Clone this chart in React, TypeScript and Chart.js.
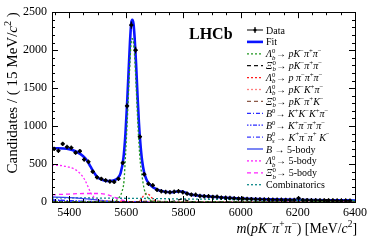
import React, { useEffect, useRef } from 'react';
import { Chart, registerables } from 'chart.js';

Chart.register(...registerables);

const FONT = "'Liberation Serif', 'DejaVu Serif', 'Times New Roman', serif";

// ---- axis ticks ----
const xTicks = [5400, 5600, 5800, 6000, 6200, 6400];
const yTicks = [0, 500, 1000, 1500, 2000, 2500];

// ---- data (15 MeV bins) ----
const binCenters = [
  5347.5, 5362.5, 5377.5, 5392.5, 5407.5, 5422.5, 5437.5, 5452.5, 5467.5, 5482.5,
  5497.5, 5512.5, 5527.5, 5542.5, 5557.5, 5572.5, 5587.5, 5602.5, 5617.5, 5632.5,
  5647.5, 5662.5, 5677.5, 5692.5, 5707.5, 5722.5, 5737.5, 5752.5, 5767.5, 5782.5,
  5797.5, 5812.5, 5827.5, 5842.5, 5857.5, 5872.5, 5887.5, 5902.5, 5917.5, 5932.5,
  5947.5, 5962.5, 5977.5, 5992.5, 6007.5, 6022.5, 6037.5, 6052.5, 6067.5, 6082.5,
  6097.5, 6112.5, 6127.5, 6142.5, 6157.5, 6172.5, 6187.5, 6202.5, 6217.5, 6232.5,
  6247.5, 6262.5, 6277.5, 6292.5, 6307.5, 6322.5, 6337.5, 6352.5, 6367.5, 6382.5,
];
const counts = [
  700, 675, 765, 725, 715, 650, 670, 560, 530, 400,
  325, 305, 285, 270, 265, 305, 515, 1265, 2330, 2000,
  860, 365, 240, 220, 160, 142, 132, 128, 135, 142,
  128, 110, 97, 95, 80, 76, 75, 67, 70, 58,
  56, 52, 48, 45, 44, 40, 38, 36, 35, 33,
  32, 30, 30, 29, 28, 27, 27, 50, 25, 25,
  24, 24, 22, 22, 21, 21, 20, 20, 19, 18,
];
const binHalfWidth = 7.5;

// ---- fit and components (mass, value) ----
const fitMass = [5340, 5360, 5380, 5400, 5420, 5440, 5455, 5465, 5475, 5485, 5495, 5505, 5520, 5535, 5550, 5560, 5570, 5580, 5590, 5597, 5603, 5608, 5613, 5617, 5621, 5625, 5629, 5634, 5639, 5644, 5649, 5655, 5662, 5670, 5680, 5690, 5700, 5710, 5720, 5735, 5750, 5765, 5780, 5795, 5810, 5825, 5840, 5860, 5880, 5900, 5925, 5950, 5975, 6000, 6050, 6100, 6150, 6200, 6250, 6300, 6350, 6400];
const fitVals = [705, 708, 705, 695, 672, 630, 580, 530, 465, 400, 345, 310, 288, 277, 278, 290, 315, 380, 580, 900, 1320, 1720, 2120, 2350, 2400, 2350, 2170, 1830, 1420, 1050, 780, 550, 395, 300, 240, 205, 180, 160, 148, 135, 128, 130, 138, 138, 118, 100, 90, 82, 76, 70, 63, 57, 52, 47, 40, 35, 31, 28, 26, 24, 22, 20];

const lbSigMass = [5340, 5500, 5550, 5565, 5575, 5585, 5592, 5597, 5603, 5608, 5613, 5617, 5621, 5625, 5629, 5634, 5639, 5644, 5649, 5655, 5662, 5670, 5680, 5690, 5705, 5720, 6400];
const lbSigVals = [0, 0, 3, 20, 60, 140, 280, 600, 1040, 1460, 1860, 2100, 2150, 2100, 1920, 1550, 1140, 780, 520, 340, 180, 90, 35, 12, 3, 0, 0];

const xibSigMass = [5340, 5700, 5750, 5770, 5785, 5795, 5805, 5820, 5840, 5880, 6400];
const xibSigVals = [0, 0, 3, 14, 32, 38, 28, 10, 3, 0, 0];

const lbPpppMass = [5340, 5620, 5640, 5650, 5660, 5670, 5680, 5690, 5700, 5710, 5725, 6400];
const lbPpppVals = [0, 0, 5, 28, 80, 112, 95, 52, 22, 7, 1, 0];

const lbPkkpMass = [5340, 5450, 5500, 5530, 5560, 5590, 5620, 5700, 6400];
const lbPkkpVals = [0, 2, 8, 14, 14, 8, 2, 0, 0];

const xibPkpkMass = [5340, 5600, 5640, 5670, 5700, 5730, 5770, 6400];
const xibPkpkVals = [0, 0, 4, 10, 12, 8, 1, 0];

const b0KkkpMass = [5340, 5370, 5400, 5430, 5470, 5520, 6400];
const b0KkkpVals = [30, 24, 15, 7, 2, 0, 0];

const b0KpppMass = [5340, 5370, 5400, 5440, 5480, 5540, 6400];
const b0KpppVals = [22, 20, 16, 9, 3, 0, 0];

const bsKppkMass = [5340, 5380, 5420, 5460, 5510, 5560, 6400];
const bsKppkVals = [18, 17, 14, 9, 3, 0, 0];

const b5Mass = [5340, 5380, 5420, 5460, 5500, 5540, 5580, 6400];
const b5Vals = [66, 62, 54, 42, 26, 10, 2, 0];

const lb5Mass = [5340, 5360, 5380, 5400, 5420, 5440, 5455, 5465, 5475, 5485, 5495, 5510, 5530, 6400];
const lb5Vals = [485, 483, 475, 458, 430, 370, 290, 210, 125, 70, 35, 10, 0, 0];

const xib5Mass = [5340, 5400, 5460, 5500, 5530, 5560, 5580, 5600, 5620, 6400];
const xib5Vals = [95, 105, 112, 112, 100, 60, 30, 10, 0, 0];

const combMass = [5340, 5500, 5650, 5800, 6000, 6200, 6400];
const combVals = [56, 52, 47, 40, 32, 25, 20];

type Part = [string, string, string?];

const decayPKPP: Part[] = [['i', 'pK'], ['u', '−'], ['i', 'π'], ['u', '+'], ['i', 'π'], ['u', '−']];
const arrow: Part = ['n', '→ '];
const lambdaB: Part[] = [['i', 'Λ'], ['ud', 'b', '0']];
const xiB: Part[] = [['i', 'Ξ'], ['ud', 'b', '0']];

const components = [
  { name: 'lbSig', mass: lbSigMass, vals: lbSigVals, color: '#1f961f', dash: [2, 2], width: 1.3,
    label: [...lambdaB, arrow, ...decayPKPP] as Part[] },
  { name: 'xibSig', mass: xibSigMass, vals: xibSigVals, color: '#111111', dash: [4, 3], width: 1.3,
    label: [...xiB, arrow, ...decayPKPP] as Part[] },
  { name: 'lbPppp', mass: lbPpppMass, vals: lbPpppVals, color: '#ff1a1a', dash: [2, 2], width: 1.3,
    label: [...lambdaB, arrow, ['i', 'p π'], ['u', '−'], ['i', 'π'], ['u', '+'], ['i', 'π'], ['u', '−']] as Part[] },
  { name: 'lbPkkp', mass: lbPkkpMass, vals: lbPkkpVals, color: '#ff7f7f', dash: [2, 2], width: 1.3,
    label: [...lambdaB, arrow, ['i', 'pK'], ['u', '−'], ['i', 'K'], ['u', '+'], ['i', 'π'], ['u', '−']] as Part[] },
  { name: 'xibPkpk', mass: xibPkpkMass, vals: xibPkpkVals, color: '#8c5a48', dash: [4, 3], width: 1.3,
    label: [...xiB, arrow, ['i', 'pK'], ['u', '−'], ['i', 'π'], ['u', '+'], ['i', 'K'], ['u', '−']] as Part[] },
  { name: 'b0Kkkp', mass: b0KkkpMass, vals: b0KkkpVals, color: '#2b2bff', dash: [4, 2, 1, 2], width: 1.3,
    label: [['i', 'B'], ['u', '0'], arrow, ['i', 'K'], ['u', '+'], ['i', 'K'], ['u', '−'], ['i', 'K'], ['u', '+'], ['i', 'π'], ['u', '−']] as Part[] },
  { name: 'b0Kppp', mass: b0KpppMass, vals: b0KpppVals, color: '#2b2bff', dash: [1.5, 1.5, 1.5, 1.5, 4, 1.5], width: 1.3,
    label: [['i', 'B'], ['u', '0'], arrow, ['i', 'K'], ['u', '+'], ['i', 'π'], ['u', '−'], ['i', 'π'], ['u', '+'], ['i', 'π'], ['u', '−']] as Part[] },
  { name: 'bsKppk', mass: bsKppkMass, vals: bsKppkVals, color: '#3a3aff', dash: [4, 2, 1, 2], width: 1.3,
    label: [['i', 'B'], ['ud', 's', '0'], arrow, ['i', 'K'], ['u', '+'], ['i', 'π'], ['u', '−'], ['i', 'π'], ['u', '+'], ['i', ' K'], ['u', '−']] as Part[] },
  { name: 'b5', mass: b5Mass, vals: b5Vals, color: '#3344ee', dash: [], width: 1.3,
    label: [['i', 'B'], ['n', ' → 5-body']] as Part[] },
  { name: 'lb5', mass: lb5Mass, vals: lb5Vals, color: '#ff22ff', dash: [2, 2], width: 1.3,
    label: [...lambdaB, ['n', '→ 5-body']] as Part[] },
  { name: 'xib5', mass: xib5Mass, vals: xib5Vals, color: '#ff22ff', dash: [4, 3], width: 1.3,
    label: [...xiB, ['n', '→ 5-body']] as Part[] },
  { name: 'comb', mass: combMass, vals: combVals, color: '#108a8a', dash: [2, 2], width: 1.3,
    label: [['n', 'Combinatorics']] as Part[] },
];

function drawRich(ctx: CanvasRenderingContext2D, x: number, y: number, parts: Part[], size: number, draw = true): number {
  let cx = x;
  const small = size * 0.68;
  for (const [k, t, t2] of parts) {
    if (k === 'n' || k === 'i' || k === 'b') {
      ctx.font = `${k === 'i' ? 'italic ' : k === 'b' ? 'bold ' : ''}${size}px ${FONT}`;
      if (draw) ctx.fillText(t, cx, y);
      cx += ctx.measureText(t).width;
    } else if (k === 'u') {
      ctx.font = `${small}px ${FONT}`;
      if (draw) ctx.fillText(t, cx, y - size * 0.42);
      cx += ctx.measureText(t).width;
    } else if (k === 'ud') {
      ctx.font = `italic ${small}px ${FONT}`;
      if (draw) ctx.fillText(t, cx, y + size * 0.22);
      const w1 = ctx.measureText(t).width;
      ctx.font = `${small}px ${FONT}`;
      if (draw) ctx.fillText(t2 || '', cx, y - size * 0.42);
      const w2 = ctx.measureText(t2 || '').width;
      cx += Math.max(w1, w2) + size * 0.05;
    }
  }
  return cx - x;
}

const decorPlugin = {
  id: 'decor',
  afterDatasetsDraw(chart: any) {
    const ctx: CanvasRenderingContext2D = chart.ctx;
    const xs = chart.scales.x;
    const ys = chart.scales.y;
    const a = chart.chartArea;
    ctx.save();
    ctx.beginPath();
    ctx.rect(a.left, a.top, a.right - a.left, a.bottom - a.top);
    ctx.clip();
    ctx.strokeStyle = '#000';
    ctx.lineWidth = 1.2;
    ctx.setLineDash([]);
    for (let i = 0; i < binCenters.length; i++) {
      const c = binCenters[i];
      const n = counts[i];
      const e = Math.sqrt(n);
      const px = xs.getPixelForValue(c);
      const py = ys.getPixelForValue(n);
      const up = Math.min(ys.getPixelForValue(n + e), py - 2.2);
      const dn = Math.max(ys.getPixelForValue(n - e), py + 2.2);
      ctx.beginPath();
      ctx.moveTo(xs.getPixelForValue(c - binHalfWidth), py);
      ctx.lineTo(xs.getPixelForValue(c + binHalfWidth), py);
      ctx.moveTo(px, dn);
      ctx.lineTo(px, up);
      ctx.stroke();
    }
    ctx.restore();
  },
  afterDraw(chart: any) {
    const ctx: CanvasRenderingContext2D = chart.ctx;
    const xs = chart.scales.x;
    const ys = chart.scales.y;
    const a = chart.chartArea;
    ctx.save();
    ctx.setLineDash([]);
    ctx.strokeStyle = '#000';
    ctx.lineWidth = 1;
    // frame
    ctx.strokeRect(Math.round(a.left) + 0.5, Math.round(a.top) + 0.5, Math.round(a.right - a.left), Math.round(a.bottom - a.top));
    // x ticks: major at xTicks, minor every quarter
    ctx.beginPath();
    for (let k = 0; k < xTicks.length; k++) {
      const v = xTicks[k];
      const px = Math.round(xs.getPixelForValue(v)) + 0.5;
      ctx.moveTo(px, a.bottom); ctx.lineTo(px, a.bottom - 6);
      ctx.moveTo(px, a.top); ctx.lineTo(px, a.top + 6);
      const step = k > 0 ? (v - xTicks[k - 1]) / 4 : (xTicks[1] - xTicks[0]) / 4;
      for (let j = 1; j < 4; j++) {
        const mv = v - j * step;
        if (mv < xs.min) continue;
        const mp = Math.round(xs.getPixelForValue(mv)) + 0.5;
        ctx.moveTo(mp, a.bottom); ctx.lineTo(mp, a.bottom - 3);
        ctx.moveTo(mp, a.top); ctx.lineTo(mp, a.top + 3);
      }
    }
    for (let k = 0; k < yTicks.length; k++) {
      const v = yTicks[k];
      const py = Math.round(ys.getPixelForValue(v)) + 0.5;
      ctx.moveTo(a.left, py); ctx.lineTo(a.left + 6, py);
      ctx.moveTo(a.right, py); ctx.lineTo(a.right - 6, py);
      if (k > 0) {
        const step = (v - yTicks[k - 1]) / 5;
        for (let j = 1; j < 5; j++) {
          const mp = Math.round(ys.getPixelForValue(v - j * step)) + 0.5;
          ctx.moveTo(a.left, mp); ctx.lineTo(a.left + 3, mp);
          ctx.moveTo(a.right, mp); ctx.lineTo(a.right - 3, mp);
        }
      }
    }
    ctx.stroke();

    ctx.fillStyle = '#000';
    ctx.textBaseline = 'alphabetic';
    ctx.textAlign = 'left';

    // y title
    const yTitle: Part[] = [['n', 'Candidates / ( 15 MeV/'], ['i', 'c'], ['u', '2'], ['n', ' )']];
    ctx.save();
    ctx.translate(17, a.top);
    ctx.rotate(-Math.PI / 2);
    const wy = drawRich(ctx, 0, 0, yTitle, 15, false);
    drawRich(ctx, -wy, 0, yTitle, 15, true);
    ctx.restore();

    // x title
    const xTitle: Part[] = [['i', 'm'], ['n', '('], ['i', 'pK'], ['u', '−'], ['i', 'π'], ['u', '+'], ['i', 'π'], ['u', '−'], ['n', ') [MeV/'], ['i', 'c'], ['u', '2'], ['n', ']']];
    const wx = drawRich(ctx, 0, 0, xTitle, 13.8, false);
    drawRich(ctx, 357 - wx, 233, xTitle, 13.8, true);

    // LHCb
    ctx.font = `bold 16px ${FONT}`;
    ctx.fillText('LHCb', 189, 38.5);

    // legend
    const lx0 = 247, lx1 = 263, tx = 266;
    const rowY = (i: number) => 30 + 11.9 * i;
    {
      const y = rowY(0);
      ctx.lineWidth = 1.2;
      ctx.beginPath();
      ctx.moveTo(lx0, y); ctx.lineTo(lx1, y);
      ctx.moveTo((lx0 + lx1) / 2, y - 3); ctx.lineTo((lx0 + lx1) / 2, y + 3);
      ctx.stroke();
      ctx.beginPath();
      ctx.arc((lx0 + lx1) / 2, y, 1.6, 0, Math.PI * 2);
      ctx.fill();
      drawRich(ctx, tx, y + 3.5, [['n', 'Data']], 10);
    }
    {
      const y = rowY(1);
      ctx.save();
      ctx.strokeStyle = '#0a14ff';
      ctx.lineWidth = 2.6;
      ctx.beginPath(); ctx.moveTo(lx0, y); ctx.lineTo(lx1, y); ctx.stroke();
      ctx.restore();
      drawRich(ctx, tx, y + 3.5, [['n', 'Fit']], 10);
    }
    components.forEach((c, i) => {
      const y = rowY(i + 2);
      ctx.save();
      ctx.strokeStyle = c.color;
      ctx.lineWidth = c.width;
      ctx.setLineDash(c.dash);
      ctx.beginPath(); ctx.moveTo(lx0, y); ctx.lineTo(lx1, y); ctx.stroke();
      ctx.restore();
      drawRich(ctx, tx, y + 3.5, c.label, 10);
    });
    ctx.restore();
  },
};

export default function App() {
  const ref = useRef<HTMLCanvasElement>(null);
  useEffect(() => {
    if (!ref.current) return;
    const toXY = (m: number[], v: number[]) => m.map((x, i) => ({ x, y: v[i] }));
    const datasets: any[] = [
      {
        label: 'Data',
        data: toXY(binCenters, counts),
        showLine: false,
        pointRadius: 1.8,
        pointBackgroundColor: '#000',
        pointBorderWidth: 0,
        borderColor: '#000',
      },
      ...components.map((c) => ({
        label: c.name,
        data: toXY(c.mass, c.vals),
        borderColor: c.color,
        borderWidth: c.width,
        borderDash: c.dash,
        pointRadius: 0,
        fill: false,
        cubicInterpolationMode: 'monotone',
      })),
      {
        label: 'Fit',
        data: toXY(fitMass, fitVals),
        borderColor: '#0a14ff',
        borderWidth: 2.6,
        pointRadius: 0,
        fill: false,
        cubicInterpolationMode: 'monotone',
      },
    ];
    const chart = new Chart(ref.current, {
      type: 'line',
      data: { datasets },
      options: {
        responsive: false,
        animation: false,
        events: [],
        layout: { padding: { top: 12, right: 19, left: 0, bottom: 0 } },
        plugins: { legend: { display: false }, tooltip: { enabled: false } },
        scales: {
          x: {
            type: 'linear',
            min: 5340,
            max: 6400,
            afterBuildTicks: (s: any) => { s.ticks = xTicks.map((v) => ({ value: v })); },
            afterFit: (s: any) => { s.height = 39; },
            ticks: { font: { family: FONT, size: 12 }, color: '#000', padding: 4, maxRotation: 0, autoSkip: false, callback: (v: any) => String(v) },
            grid: { display: false, drawTicks: false },
            border: { display: false },
          },
          y: {
            type: 'linear',
            min: 0,
            max: 2500,
            afterBuildTicks: (s: any) => { s.ticks = yTicks.map((v) => ({ value: v })); },
            afterFit: (s: any) => { s.width = 52; },
            ticks: { font: { family: FONT, size: 12 }, color: '#000', padding: 5, autoSkip: false, callback: (v: any) => String(v) },
            grid: { display: false, drawTicks: false },
            border: { display: false },
          },
        },
      },
      plugins: [decorPlugin],
    });
    return () => chart.destroy();
  }, []);
  return (
    <div style={{ position: 'absolute', left: 0, top: 0, width: 374, height: 241, background: '#fff' }}>
      <canvas ref={ref} width={374} height={241} style={{ display: 'block' }} />
    </div>
  );
}
